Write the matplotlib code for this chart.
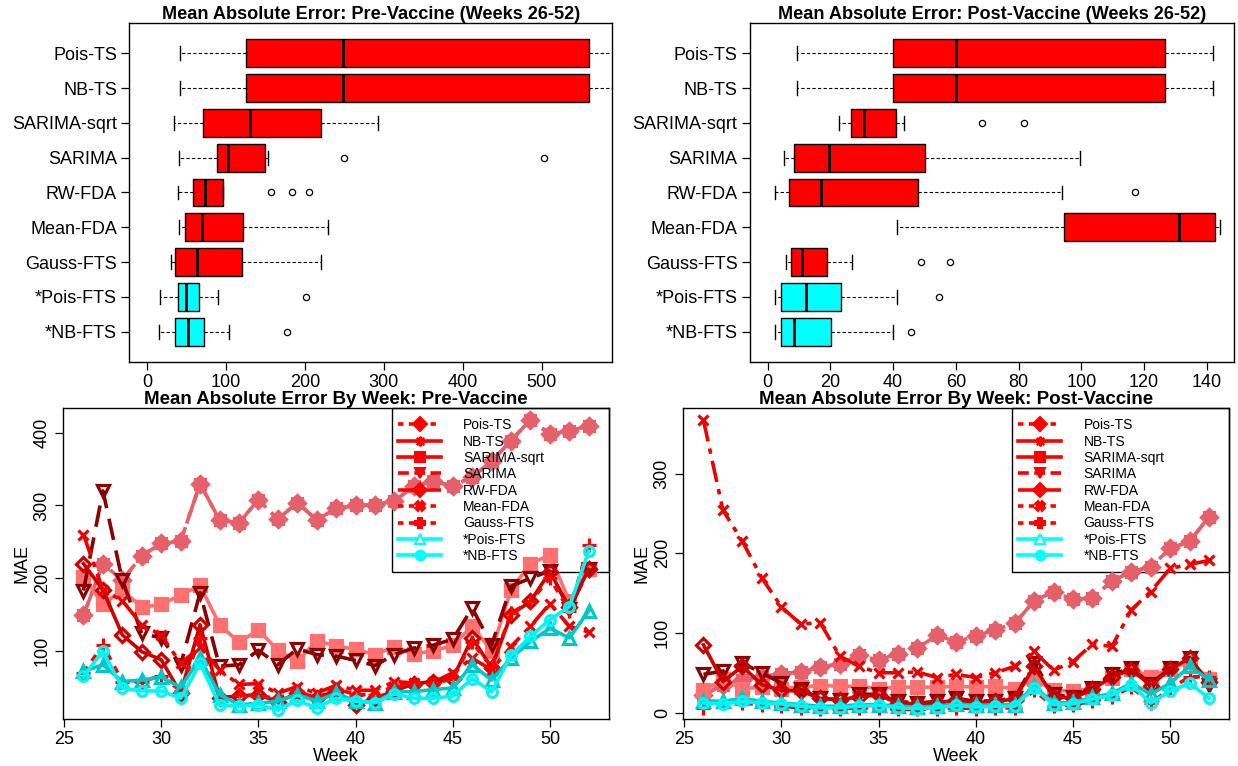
import matplotlib
matplotlib.use("Agg")
import matplotlib.pyplot as plt
from matplotlib.lines import Line2D
from matplotlib.patches import Rectangle

plt.rcParams["font.family"] = ["Liberation Sans", "DejaVu Sans"]

methods = ["Pois-TS", "NB-TS", "SARIMA-sqrt", "SARIMA", "RW-FDA",
           "Mean-FDA", "Gauss-FTS", "*Pois-FTS", "*NB-FTS"]

# boxplot summaries: low whisker, Q1, median, Q3, high whisker, outliers
pre_whislo = [42, 42, 34, 41, 40, 41, 30, 17, 15]
pre_q1 = [126, 126, 71, 89, 58, 48, 36, 39, 36]
pre_med = [248, 248, 130, 103, 74, 70, 63, 49, 52]
pre_q3 = [560, 560, 220, 149, 96, 122, 120, 66, 72]
pre_whishi = [640, 640, 293, 154, 97, 230, 221, 90, 104]
pre_fliers = [[], [], [], [250, 503], [157, 184, 205], [], [], [201], [177]]

post_whislo = [9.5, 9.5, 22.7, 5.3, 2.3, 41.3, 6.0, 2.4, 2.3]
post_q1 = [39.9, 39.9, 26.6, 8.5, 6.8, 94.5, 7.5, 4.2, 4.2]
post_med = [60.0, 60.0, 30.8, 19.5, 17.0, 131.0, 11.1, 12.3, 8.5]
post_q3 = [126.7, 126.7, 40.8, 50.2, 48.0, 142.5, 19.1, 23.3, 20.3]
post_whishi = [142.0, 142.0, 43.5, 99.7, 94.0, 144.2, 26.9, 41.3, 39.9]
post_fliers = [[], [], [68.2, 81.8], [], [117.2], [], [49, 58], [54.6], [45.7]]

# weekly mean absolute error
weeks = list(range(26, 53))
pre_pois_ts = [149, 220, 197, 231, 248, 251, 330, 280, 276, 308, 281, 304, 280, 296,
               300, 301, 306, 327, 333, 327, 339, 361, 389, 418, 398, 403, 409]
pre_nb_ts = pre_pois_ts
pre_sqrt = [202, 164, 184, 160, 164, 177, 190, 136, 112, 129, 101, 86, 114, 107,
            102, 95, 106, 96, 100, 108, 134, 100, 184, 220, 232, 168, 212]
pre_sarima = [183, 320, 197, 124, 118, 81, 180, 79, 81, 101, 81, 103, 95, 93,
              87, 80, 95, 104, 108, 116, 159, 108, 189, 200, 210, 157, 212]
pre_rw = [220, 184, 122, 99, 88, 42, 136, 36, 38, 40, 30, 42, 36, 45,
          26, 35, 45, 55, 58, 62, 118, 77, 150, 168, 209, 160, 212]
pre_mean = [260, 184, 169, 136, 122, 83, 105, 74, 54, 55, 42, 51, 42, 53,
            46, 46, 58, 56, 57, 70, 90, 74, 106, 134, 165, 134, 126]
pre_gauss = [70, 108, 58, 58, 66, 45, 118, 35, 40, 38, 35, 45, 35, 48,
             40, 40, 52, 56, 55, 62, 112, 78, 152, 168, 200, 155, 246]
pre_pois_fts = [72, 81, 58, 60, 64, 50, 90, 40, 26, 28, 31, 40, 31, 42,
                31, 29, 44, 44, 47, 49, 81, 60, 90, 113, 131, 118, 155]
pre_nb_fts = [65, 100, 49, 45, 45, 35, 83, 26, 24, 26, 19, 32, 22, 35,
              31, 29, 41, 35, 35, 38, 62, 44, 94, 120, 143, 161, 237]

post_pois_ts = [22, 35, 41, 45, 49, 51, 57, 61, 72, 66, 74, 81, 97, 89,
                96, 104, 112, 140, 152, 142, 144, 165, 177, 183, 206, 215, 246]
post_nb_ts = post_pois_ts
post_sqrt = [28, 42, 30, 32, 30, 32, 34, 33, 33, 30, 32, 32, 32, 33,
             32, 33, 30, 42, 28, 27, 30, 44, 55, 45, 55, 64, 42]
post_sarima = [48, 52, 62, 50, 37, 29, 18, 16, 23, 23, 14, 12, 14, 18,
               14, 15, 18, 62, 23, 19, 31, 48, 56, 36, 56, 69, 35]
post_rw = [85, 39, 58, 35, 28, 27, 18, 16, 20, 22, 12, 11, 12, 16,
           12, 14, 17, 58, 20, 18, 29, 45, 54, 34, 55, 68, 38]
post_mean = [367, 254, 215, 169, 133, 111, 113, 71, 58, 50, 50, 51, 44, 48,
             44, 50, 58, 77, 53, 64, 86, 83, 129, 152, 181, 186, 191]
post_gauss = [6, 14, 12, 10, 8, 6, 5, 5, 6, 6, 4, 4, 5, 6,
              5, 6, 6, 28, 8, 10, 14, 20, 32, 12, 30, 45, 45]
post_pois_fts = [15, 14, 18, 14, 12, 10, 8, 8, 10, 10, 8, 7, 8, 11,
                 9, 10, 10, 33, 12, 13, 19, 24, 37, 23, 37, 58, 41]
post_nb_fts = [12, 11, 14, 12, 11, 8, 6, 6, 8, 9, 6, 5, 6, 9,
               7, 8, 8, 31, 10, 11, 17, 22, 35, 12, 27, 37, 18]

# line style per method: colour, linestyle, marker, filled marker, marker size
styles = {
    "Pois-TS":     ("#E5606A", (0, (4, 2)), "D", True, 8.5),
    "NB-TS":       ("#E5606A", (0, (7, 3)), "s", True, 7.5),
    "SARIMA-sqrt": ("#FF7070", "-", "s", True, 8),
    "SARIMA":      ("#8B0000", (0, (6, 3)), "v", False, 8.5),
    "RW-FDA":      ("#CC0000", "-", "D", False, 7),
    "Mean-FDA":    ("#EE0000", (0, (6, 2, 1.5, 2)), "x", False, 7.5),
    "Gauss-FTS":   ("#FF0000", (0, (2, 2)), "+", False, 9.5),
    "*Pois-FTS":   ("#00C8C8", "-", "^", False, 8),
    "*NB-FTS":     ("#00F5F5", "-", "o", False, 7),
}

# legend entries
legend_spec = [
    ("Pois-TS", "#FF0000", (0, (1.5, 1.5)), "D", "#FF0000"),
    ("NB-TS", "#FF0000", "-", (8, 1, 0), "#FF0000"),
    ("SARIMA-sqrt", "#FF0000", "-", "s", "#FF0000"),
    ("SARIMA", "#FF0000", (0, (3, 1.5)), "v", "#FF0000"),
    ("RW-FDA", "#FF0000", (0, (5, 2)), "D", "#FF0000"),
    ("Mean-FDA", "#FF0000", (0, (1.5, 1.5)), "X", "#FF0000"),
    ("Gauss-FTS", "#FF0000", (0, (1.5, 1.5)), "P", "#FF0000"),
    ("*Pois-FTS", "#00FFFF", "-", "^", "white"),
    ("*NB-FTS", "#00FFFF", "-", "o", "#00FFFF"),
]


def draw_box(ax, whislo, q1, med, q3, whishi, fliers, xlim, xticks, title):
    n = len(methods)
    stats = []
    for i in range(n):
        stats.append(dict(whislo=whislo[i], q1=q1[i], med=med[i], q3=q3[i],
                          whishi=whishi[i], fliers=fliers[i]))
    positions = list(range(n, 0, -1))
    res = ax.bxp(stats, positions=positions, vert=False, widths=0.8,
                 patch_artist=True, showfliers=True,
                 boxprops=dict(edgecolor="black", linewidth=1.0),
                 medianprops=dict(color="black", linewidth=2.0),
                 whiskerprops=dict(color="black", linestyle=(0, (3, 2)), linewidth=0.8),
                 capprops=dict(color="black", linewidth=1.0),
                 flierprops=dict(marker="o", markerfacecolor="none",
                                 markeredgecolor="black", markersize=4.5,
                                 markeredgewidth=0.9))
    for i, box in enumerate(res["boxes"]):
        box.set_facecolor("#00FFFF" if methods[i].startswith("*") else "#FF0000")
    for cap in res["caps"]:
        y = cap.get_ydata()
        mid = (y[0] + y[1]) / 2
        cap.set_ydata([mid - 0.2, mid + 0.2])
    ax.set_xlim(*xlim)
    ax.set_ylim(0.14, 9.86)
    ax.set_yticks(positions)
    ax.set_yticklabels(methods, fontsize=13)
    ax.set_xticks(xticks)
    ax.set_xticklabels([str(t) for t in xticks], fontsize=13)
    ax.tick_params(direction="out", length=6, width=0.9, pad=3)
    ax.set_title(title, fontsize=13.1, fontweight="bold", pad=1)
    for s in ax.spines.values():
        s.set_linewidth(1.0)


def draw_week(ax, series, ylim, yticks, title):
    for name in methods:
        col, ls, mk, filled, ms = styles[name]
        ax.plot(weeks, series[name], color=col, linestyle=ls, linewidth=2.6,
                marker=mk, markersize=ms,
                markerfacecolor=col if filled else "none",
                markeredgecolor=col, markeredgewidth=2.3, zorder=3)
    ax.set_xlim(24.96, 53.04)
    ax.set_ylim(*ylim)
    ax.set_xticks([25, 30, 35, 40, 45, 50])
    ax.set_yticks(yticks)
    ax.tick_params(direction="out", length=6, width=0.9, labelsize=13, pad=3)
    plt.setp(ax.get_yticklabels(), rotation=90, va="center")
    ax.set_xlabel("Week", fontsize=13, labelpad=0)
    ax.set_ylabel("MAE", fontsize=13, labelpad=2)
    ax.set_title(title, fontsize=13.5, fontweight="bold", pad=0)
    for s in ax.spines.values():
        s.set_linewidth(1.0)

    # legend frame spans to the upper-right corner of the plot
    ax.add_patch(Rectangle((0.602, 0.473), 0.398, 0.527, transform=ax.transAxes,
                           fill=False, edgecolor="black", linewidth=1.0, zorder=2,
                           clip_on=False))
    handles = []
    for label, col, ls, mk, face in legend_spec:
        handles.append(Line2D([], [], color=col, linestyle=ls, linewidth=2.6,
                              marker=mk, markersize=7, markerfacecolor=face,
                              markeredgecolor=col, markeredgewidth=1.5, label=label))
    ax.legend(handles=handles, loc="upper left", bbox_to_anchor=(0.602, 0.988),
              frameon=False, fontsize=10, handlelength=3.1, handletextpad=1.6,
              labelspacing=0.17, borderaxespad=0.0, borderpad=0.45)


fig = plt.figure(figsize=(12.38, 7.66), dpi=100)
ax1 = fig.add_axes([0.1046, 0.5278, 0.3897, 0.4418])
ax2 = fig.add_axes([0.6058, 0.5278, 0.3910, 0.4418])
ax3 = fig.add_axes([0.0511, 0.0614, 0.4408, 0.4056])
ax4 = fig.add_axes([0.5519, 0.0614, 0.4411, 0.4056])

draw_box(ax1, pre_whislo, pre_q1, pre_med, pre_q3, pre_whishi, pre_fliers,
         (-22, 589), [0, 100, 200, 300, 400, 500],
         "Mean Absolute Error: Pre-Vaccine (Weeks 26-52)")
draw_box(ax2, post_whislo, post_q1, post_med, post_q3, post_whishi, post_fliers,
         (-5.6, 148.7), [0, 20, 40, 60, 80, 100, 120, 140],
         "Mean Absolute Error: Post-Vaccine (Weeks 26-52)")

pre_series = {"Pois-TS": pre_pois_ts, "NB-TS": pre_nb_ts, "SARIMA-sqrt": pre_sqrt,
              "SARIMA": pre_sarima, "RW-FDA": pre_rw, "Mean-FDA": pre_mean,
              "Gauss-FTS": pre_gauss, "*Pois-FTS": pre_pois_fts, "*NB-FTS": pre_nb_fts}
post_series = {"Pois-TS": post_pois_ts, "NB-TS": post_nb_ts, "SARIMA-sqrt": post_sqrt,
               "SARIMA": post_sarima, "RW-FDA": post_rw, "Mean-FDA": post_mean,
               "Gauss-FTS": post_gauss, "*Pois-FTS": post_pois_fts, "*NB-FTS": post_nb_fts}

draw_week(ax3, pre_series, (6.5, 433.6), [100, 200, 300, 400],
          "Mean Absolute Error By Week: Pre-Vaccine")
draw_week(ax4, post_series, (-8, 382), [0, 100, 200, 300],
          "Mean Absolute Error By Week: Post-Vaccine")

fig.savefig("out.png", dpi=100)
